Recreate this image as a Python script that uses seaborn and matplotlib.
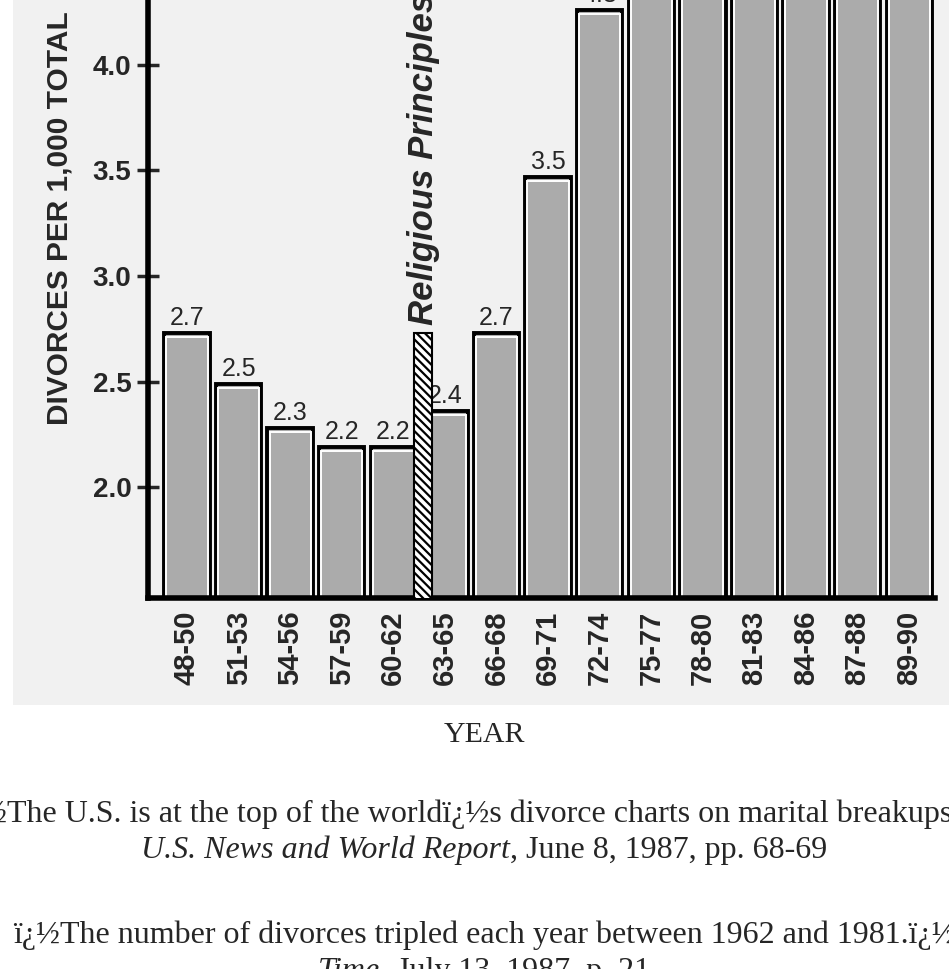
import numpy as np
import pandas as pd
import matplotlib.pyplot as plt
import seaborn as sns
from matplotlib.patches import Rectangle

sns.set_style('white')
plt.rcParams['font.family'] = ['Liberation Sans', 'DejaVu Sans']
plt.rcParams['hatch.linewidth'] = 1.6

# values (bars after 72-74 run off the top)
periods = ['48-50', '51-53', '54-56', '57-59', '60-62', '63-65', '66-68', '69-71',
           '72-74', '75-77', '78-80', '81-83', '84-86', '87-88', '89-90']
rates = [2.73, 2.49, 2.28, 2.19, 2.19, 2.36, 2.73, 3.47, 4.26, 5.0, 5.2, 5.1, 4.9, 4.8, 4.7]
rate_labels = ['2.7', '2.5', '2.3', '2.2', '2.2', '2.4', '2.7', '3.5', '4.3',
               '5.0', '5.2', '5.1', '4.9', '4.8', '4.7']
yticks = [2.0, 2.5, 3.0, 3.5, 4.0]
ytick_labels = ['2.0', '2.5', '3.0', '3.5', '4.0']
event_pos = 4.58
event_height = 2.73
event_text = 'Religious Principles'

W, H = 949, 969
fig = plt.figure(figsize=(W / 100, H / 100), dpi=100)

# grey of the scanned picture
fig.add_artist(Rectangle((13 / W, 1 - 705 / H), 1, 705 / H, transform=fig.transFigure,
                         facecolor='#f1f1f1', edgecolor='none', zorder=0))

ax = fig.add_axes([148 / W, 1 - 598 / H, (935 - 148) / W, 598 / H])
ax.set_facecolor('#f1f1f1')

df = pd.DataFrame({'period': periods, 'rate': rates})
sns.barplot(data=df, x='period', y='rate', color='#ababab', saturation=1, width=0.88,
            edgecolor='black', linewidth=2.8, ax=ax, zorder=2)
ax.bar_label(ax.containers[0], labels=rate_labels, padding=2, fontsize=18)

# thin white line inside each bar outline
x = np.arange(len(periods))
ax.bar(x, np.array(rates) - 0.02, width=0.80, fill=False, edgecolor='white',
       linewidth=1.4, zorder=2.5)

# hatched marker + label
ax.bar(event_pos, event_height, width=0.34, color='white', edgecolor='black',
       hatch='\\\\\\\\', linewidth=1.5, zorder=3)
ax.text(event_pos, event_height + 0.04, event_text, rotation=90, ha='center', va='bottom',
        fontsize=25, fontweight='bold', style='italic', clip_on=False)

ax.set_ylim(1.474, 4.308)
ax.set_xlim(-0.756, 14.5)
ax.set_yticks(yticks)
ax.set_yticklabels(ytick_labels, fontweight='bold')
ax.tick_params(axis='y', direction='inout', length=16, width=2.5, labelsize=20, pad=4, left=True)
ax.tick_params(axis='x', length=0, pad=9, labelsize=21, labelrotation=90)
for lab in ax.get_xticklabels():
    lab.set_fontweight('bold')
ax.set_xlabel('')
ax.set_ylabel('')
for side in ['top', 'right']:
    ax.spines[side].set_visible(False)
for side in ['left', 'bottom']:
    ax.spines[side].set_linewidth(4)
    ax.spines[side].set_color('black')

fig.text(60 / W, 1 - 425 / H, 'DIVORCES PER 1,000 TOTAL', rotation=90, ha='center',
         va='bottom', fontsize=21.5, fontweight='bold')

# captions below the picture
serif = ['Liberation Serif', 'DejaVu Serif']
center_px = 484


def caption(parts, base_px, size=23):
    texts = [fig.text(0, 1 - base_px / H, s, fontsize=size, family=serif, style=st,
                      va='baseline') for s, st in parts]
    r = fig.canvas.get_renderer()
    widths = [t.get_window_extent(r).width for t in texts]
    xpos = center_px - sum(widths) / 2
    for t, w in zip(texts, widths):
        t.set_x(xpos / W)
        xpos += w


caption([('YEAR', 'normal')], 742, size=21.5)
caption([('ï¿½The U.S. is at the top of the worldï¿½s divorce charts on marital breakups.ï¿½', 'normal')], 822)
caption([('U.S. News and World Report', 'italic'), (', June 8, 1987, pp. 68-69', 'normal')], 858)
caption([('ï¿½The number of divorces tripled each year between 1962 and 1981.ï¿½', 'normal')], 943)
caption([('Time', 'italic'), (', July 13, 1987, p. 21', 'normal')], 979)

fig.savefig('out.png', dpi=100)
